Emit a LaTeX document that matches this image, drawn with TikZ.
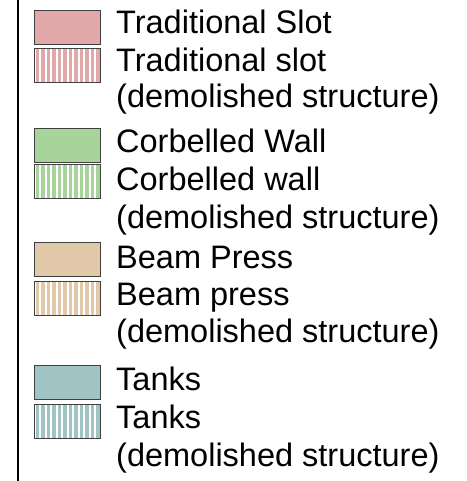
\documentclass[tikz,border=0pt]{standalone}
\usepackage{fontspec}
\setmainfont{Liberation Sans}
\definecolor{slotc}{RGB}{224,168,168}
\definecolor{wallc}{RGB}{166,212,154}
\definecolor{pressc}{RGB}{224,200,168}
\definecolor{tankc}{RGB}{160,196,196}
\tikzset{
  swatch/.style={draw=black!75, line width=0.9pt, minimum width=66pt, minimum height=34pt, inner sep=0pt, outer sep=0pt, anchor=north west},
  solidsw/.style={swatch, fill=#1},
  hatchsw/.style={swatch, fill=white, path picture={
    \foreach \i in {0,...,11}
      \fill[#1] ([xshift=1.3pt+\i*5.5pt]path picture bounding box.south west) rectangle ++(3.6pt,34pt);}},
  lbl/.style={anchor=base west, inner sep=0pt, font=\fontsize{32.5}{36}\selectfont}
}
\begin{document}
\begin{tikzpicture}[x=1pt,y=-1pt]
\useasboundingbox (0,0) rectangle (466,481);
\coordinate (lt) at (18,0);
\coordinate (lb) at (18,481);
\draw[line width=2.4pt] (lt) -- (lb);
% group 1
\node[solidsw=slotc] (s1) at (34.5,10) {};
\node[hatchsw=slotc] (h1) at (34.5,48) {};
\node[lbl] (t1) at (116,33.5) {Traditional Slot};
\node[lbl] (t2) at (116,72) {Traditional slot};
\node[lbl] (t3) at (116,108) {(demolished structure)};
% group 2
\node[solidsw=wallc] (s2) at (34.5,128) {};
\node[hatchsw=wallc] (h2) at (34.5,164) {};
\node[lbl] (t4) at (116,152.5) {Corbelled Wall};
\node[lbl] (t5) at (116,190.5) {Corbelled wall};
\node[lbl] (t6) at (116,228) {(demolished structure)};
% group 3
\node[solidsw=pressc] (s3) at (34.5,242) {};
\node[hatchsw=pressc] (h3) at (34.5,281.5) {};
\node[lbl] (t7) at (116,268.5) {Beam Press};
\node[lbl] (t8) at (116,305.5) {Beam press};
\node[lbl] (t9) at (116,342.5) {(demolished structure)};
% group 4
\node[solidsw=tankc] (s4) at (34.5,365) {};
\node[hatchsw=tankc] (h4) at (34.5,404) {};
\node[lbl] (t10) at (116,390.5) {Tanks};
\node[lbl] (t11) at (116,428.5) {Tanks};
\node[lbl] (t12) at (116,466.5) {(demolished structure)};
\end{tikzpicture}
\end{document}
